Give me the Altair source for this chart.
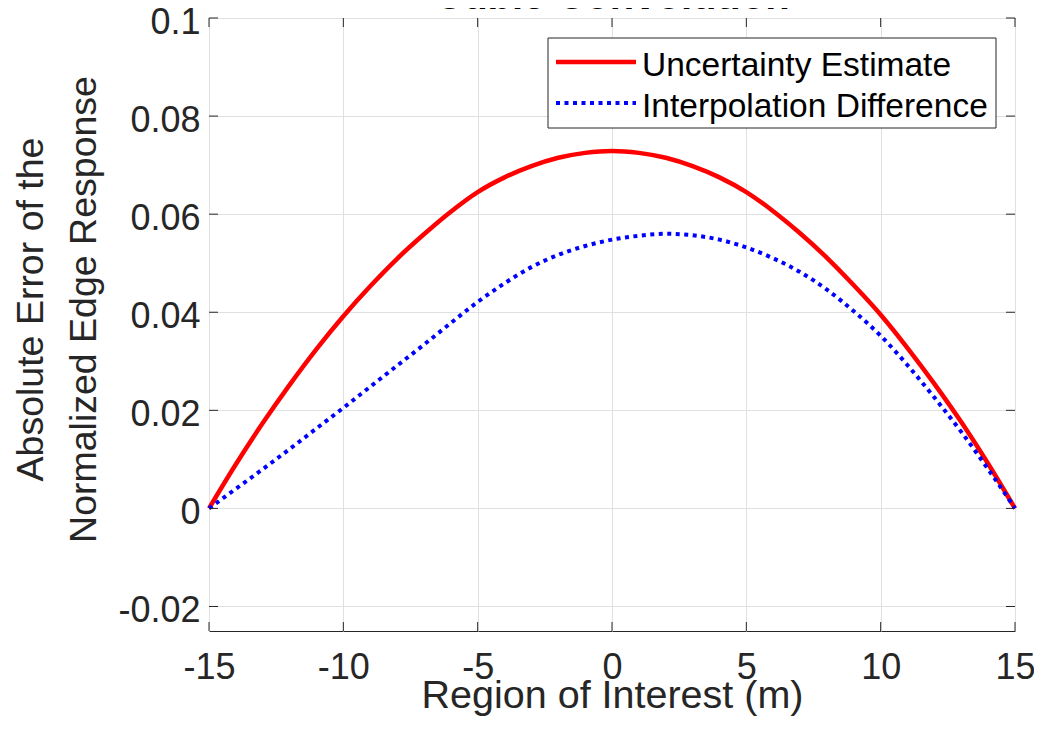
import altair as alt
import pandas as pd

# ---------------- data ----------------
X_M = list(range(-15, 16))
UNCERTAINTY = [0.0, 0.0090, 0.0174, 0.0252, 0.0325, 0.0392, 0.0453, 0.0509, 0.0559, 0.0605,
               0.0645, 0.0675, 0.0698, 0.0715, 0.0725, 0.0729, 0.0725, 0.0715, 0.0698, 0.0675,
               0.0645, 0.0606, 0.0561, 0.0511, 0.0455, 0.0395, 0.0327, 0.0254, 0.0176, 0.0091, 0.0]
INTERP_DIFF = [0.0, 0.0040, 0.0080, 0.0121, 0.0163, 0.0205, 0.0248, 0.0291, 0.0334, 0.0378,
               0.0421, 0.0459, 0.0492, 0.0517, 0.0535, 0.0548, 0.0556, 0.0560, 0.0557, 0.0548,
               0.0532, 0.0510, 0.0482, 0.0446, 0.0402, 0.0352, 0.0292, 0.0226, 0.0156, 0.0080, 0.0]
SERIES = ["Uncertainty Estimate", "Interpolation Difference"]
COLORS = ["#ff0000", "#0000ff"]
X_TICKS = [-15, -10, -5, 0, 5, 10, 15]
Y_TICKS = [-0.02, 0, 0.02, 0.04, 0.06, 0.08, 0.1]
TITLE = "Cubic Convolution"
X_TITLE = "Region of Interest (m)"
Y_TITLE = ["Absolute Error of the", "Normalized Edge Response"]

# ---------------- styling ----------------
FONT = "Liberation Sans"
INK = "#262626"
GRID = "#e0e0e0"
W, H = 806, 613
TICK_LEN = 9

xs = alt.Scale(domain=[-15, 15], nice=False, zero=False)
ys = alt.Scale(domain=[-0.025, 0.1], nice=False, zero=False)

df = pd.DataFrame({
    "x": X_M * 2,
    "value": UNCERTAINTY + INTERP_DIFF,
    "series": [SERIES[0]] * len(X_M) + [SERIES[1]] * len(X_M),
})

x_axis = alt.Axis(
    values=X_TICKS, title=X_TITLE, grid=True, gridColor=GRID, gridWidth=1,
    domain=False, ticks=False, tickSize=0,
    labelFont=FONT, labelFontSize=36, labelColor=INK, labelPadding=19,
    labelFlush=False, labelOverlap=False, labelExpr="toString(datum.value)",
    titleFont=FONT, titleFontSize=39.5, titleFontWeight="normal", titleColor=INK,
    titleBaseline="alphabetic", titleY=76,
)
y_axis = alt.Axis(
    values=Y_TICKS, title=Y_TITLE, grid=True, gridColor=GRID, gridWidth=1,
    domain=False, ticks=False, tickSize=0,
    labelFont=FONT, labelFontSize=36, labelColor=INK, labelPadding=9,
    labelFlush=False, labelOverlap=False, labelOffset=4,
    labelExpr="toString(datum.value)",
    titleFont=FONT, titleFontSize=37.5, titleFontWeight="normal", titleColor=INK,
    titleAngle=270, titleAlign="center", titleBaseline="top", titleLineHeight=53,
    titleX=-197, titleY=291,
)

red = alt.Chart(df).transform_filter(alt.datum.series == SERIES[0]).mark_line(
    color=COLORS[0], strokeWidth=4.5, interpolate="monotone", strokeJoin="round"
).encode(
    x=alt.X("x:Q", scale=xs, axis=x_axis),
    y=alt.Y("value:Q", scale=ys, axis=y_axis),
)
blue = alt.Chart(df).transform_filter(alt.datum.series == SERIES[1]).mark_line(
    color=COLORS[1], strokeWidth=4, strokeDash=[4, 4.5], strokeCap="butt", interpolate="monotone"
).encode(
    x=alt.X("x:Q", scale=xs, axis=x_axis),
    y=alt.Y("value:Q", scale=ys, axis=y_axis),
)

# inward tick marks (MATLAB box style)
ytk = pd.DataFrame({"value": Y_TICKS})
xtk = pd.DataFrame({"x": X_TICKS})
tick_style = dict(color=INK, strokeWidth=1)
ytick_l = alt.Chart(ytk).mark_rule(**tick_style).encode(
    y=alt.Y("value:Q", scale=ys, axis=y_axis), x=alt.value(0), x2=alt.value(TICK_LEN))
ytick_r = alt.Chart(ytk).mark_rule(**tick_style).encode(
    y=alt.Y("value:Q", scale=ys, axis=y_axis), x=alt.value(W - TICK_LEN), x2=alt.value(W))
xtick_b = alt.Chart(xtk).mark_rule(**tick_style).encode(
    x=alt.X("x:Q", scale=xs, axis=x_axis), y=alt.value(H - TICK_LEN), y2=alt.value(H))
xtick_t = alt.Chart(xtk).mark_rule(**tick_style).encode(
    x=alt.X("x:Q", scale=xs, axis=x_axis), y=alt.value(0), y2=alt.value(TICK_LEN))

# legend (drawn manually, MATLAB style box)
one = alt.Data(values=[{}])
leg_box = alt.Chart(one).mark_rect(fill="white", stroke=INK, strokeWidth=1).encode(
    x=alt.value(339), x2=alt.value(787), y=alt.value(20), y2=alt.value(110))
leg_red = alt.Chart(one).mark_rule(color=COLORS[0], strokeWidth=4.5).encode(
    x=alt.value(347), x2=alt.value(427), y=alt.value(44))
leg_blue = alt.Chart(one).mark_rule(color=COLORS[1], strokeWidth=4, strokeDash=[4, 4.5],
                                    strokeCap="butt").encode(
    x=alt.value(347), x2=alt.value(427), y=alt.value(85))
leg_t1 = alt.Chart(one).mark_text(align="left", baseline="middle", font=FONT, fontSize=33.5,
                                  color="black").encode(
    x=alt.value(433), y=alt.value(48), text=alt.value(SERIES[0]))
leg_t2 = alt.Chart(one).mark_text(align="left", baseline="middle", font=FONT, fontSize=33.5,
                                  color="black").encode(
    x=alt.value(433), y=alt.value(89), text=alt.value(SERIES[1]))

title = alt.Chart(one).mark_text(align="center", baseline="alphabetic", font=FONT, fontSize=40,
                                 fontWeight="bold", color="black").encode(
    x=alt.value(W / 2), y=alt.value(-9), text=alt.value(TITLE))

chart = alt.layer(
    red, blue, ytick_l, ytick_r, xtick_b, xtick_t,
    leg_box, leg_red, leg_blue, leg_t1, leg_t2, title,
).properties(
    width=W, height=H,
    background="white",
    padding={"left": 201, "top": 10, "right": 19, "bottom": 90},
    autosize=alt.AutoSizeParams(type="none"),
).configure_view(stroke=INK, strokeWidth=1)

chart.save("out.html", embed_options={"renderer": "svg", "actions": False})
